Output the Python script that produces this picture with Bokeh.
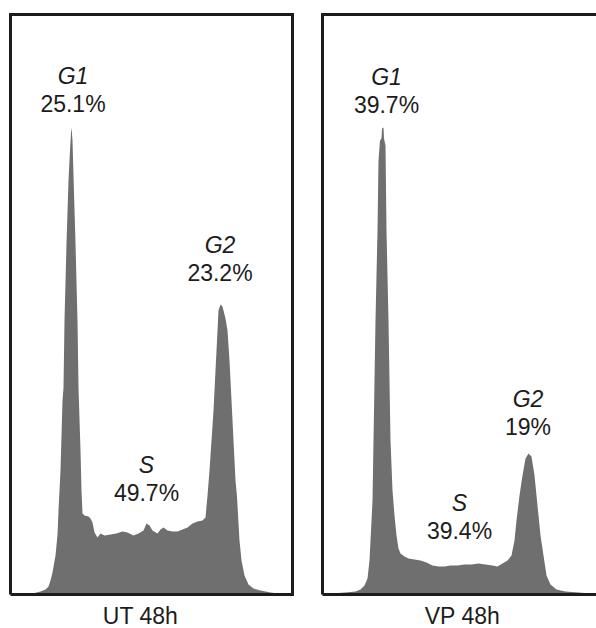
from bokeh.plotting import figure
from bokeh.layouts import row
from bokeh.models import Range1d
from bokeh.core.properties import value
from bokeh.embed import file_html
from bokeh.resources import INLINE

# ---------------- data (DNA content channel, cell counts) ----------------
ut_channel = [0, 10, 22, 30, 35, 38, 40, 42, 45, 47, 48, 50, 52, 53, 54, 56, 58, 59.5,
              60.5, 61, 62, 63, 65, 67, 68, 70, 71, 72, 74, 78, 80, 82, 84, 87, 90, 94,
              100, 106, 112, 117, 123, 128, 133, 136, 139, 142, 147, 150, 153, 157, 162,
              167, 172, 177, 182, 187, 192, 195, 197, 199, 201, 203, 205, 207, 208, 210,
              212, 215, 217, 219, 221, 223, 225, 226.5, 229, 231, 234, 238, 243, 250, 260,
              268, 282]
ut_counts = [0, 0.5, 0.5, 1.5, 2.5, 4, 7, 11, 19.5, 30, 42, 62, 97, 103.5, 137, 175.5,
             207, 222, 231, 233.5, 227, 209.5, 175.5, 137, 103.5, 72, 52, 40.5, 39.5, 39,
             38, 36, 31, 28.5, 30.5, 29.5, 30, 30.5, 31.5, 31, 29.5, 30.5, 32, 35.5, 34.5,
             32, 30.5, 32.5, 33.5, 32, 31.5, 31.5, 32.5, 33.5, 35.5, 36.5, 37, 38.5, 49.5,
             62, 77, 92, 112, 132, 142, 145, 144, 138, 132, 117, 97, 77, 57, 49, 27, 17,
             9.5, 5, 3, 2, 1, 0.5, 0]

vp_channel = [0, 8, 23, 33, 38, 42, 45, 47, 48, 50, 51, 52, 53, 55, 56, 57.5, 59, 59.5,
              61, 61.5, 63, 64, 66, 67, 68, 70, 72, 74, 76, 78, 82, 86, 92, 98, 104, 110,
              116, 122, 128, 135, 142, 149, 156, 163, 170, 175, 180, 185, 189, 192, 194,
              197, 200, 203, 206, 209, 212, 215, 218, 221, 224, 228, 234, 243, 256, 268, 274]
vp_counts = [0, 0.5, 1, 1.5, 2.5, 4.5, 8, 17, 27, 47, 77, 107, 137, 182, 217, 227, 228,
             233, 233.5, 228, 224.5, 182, 137, 107, 77, 52, 39.5, 29.5, 23, 20.5, 19, 18,
             17.5, 17, 16, 14.5, 14, 14, 14.5, 14.5, 15, 15, 15.5, 15, 14.5, 14, 15.5, 17,
             19.5, 27, 37, 49.5, 59.5, 68, 70.5, 69, 59.5, 44.5, 29.5, 19.5, 9.5, 5, 2.5,
             1.5, 1, 0.5, 0]

# phase annotations
ut_phases = ["G1", "G2", "S"]
ut_pcts = ["25.1%", "23.2%", "49.7%"]
ut_lab_x = [62.5, 209.5, 136]
ut_lab_y = [259.5, 175, 65]

vp_phases = ["G1", "G2", "S"]
vp_pcts = ["39.7%", "19%", "39.4%"]
vp_lab_x = [64, 205.5, 137]
vp_lab_y = [259, 98, 46]

titles = ["UT 48h", "VP 48h"]
title_x = [130, 140]
title_y = -10.5

# histogram panel extent (channel 0..282, counts 0..290)
PANEL_X = [0, 282]
PANEL_Y = [0, 290]

FILL = "#6f6f6f"
INK = "#1c1c1c"
FONT = "Liberation Sans"
FS = "23px"
LINE_GAP = 14  # count units between phase name and percentage


def make_panel(channel, counts, phases, pcts, lx, ly, title, tx, width, x_start):
    p = figure(width=width, height=628, output_backend="svg", toolbar_location=None,
               x_axis_type=None, y_axis_type=None,
               x_range=Range1d(x_start, x_start + width * 1.0),
               y_range=Range1d(-17, 297),
               min_border=0, min_border_left=0, min_border_right=0,
               min_border_top=0, min_border_bottom=0,
               background_fill_color="white", border_fill_color="white",
               outline_line_color=None)
    p.varea(x=channel, y1=[0] * len(channel), y2=counts, fill_color=FILL, fill_alpha=1.0)
    bx = [PANEL_X[0], PANEL_X[1], PANEL_X[1], PANEL_X[0], PANEL_X[0]]
    by = [PANEL_Y[0], PANEL_Y[0], PANEL_Y[1], PANEL_Y[1], PANEL_Y[0]]
    p.line(bx, by, line_color=INK, line_width=3, line_join="miter")
    p.text(x=lx, y=ly, text=phases, text_font=value(FONT), text_font_size=FS,
           text_font_style="italic", text_color=INK,
           text_align="center", text_baseline="middle")
    p.text(x=lx, y=[v - LINE_GAP for v in ly], text=pcts, text_font=value(FONT),
           text_font_size=FS, text_color=INK,
           text_align="center", text_baseline="middle")
    p.text(x=[tx], y=[title_y], text=[title], text_font=value(FONT), text_font_size=FS,
           text_color=INK, text_align="center", text_baseline="middle")
    return p


left = make_panel(ut_channel, ut_counts, ut_phases, ut_pcts, ut_lab_x, ut_lab_y,
                  titles[0], title_x[0], 307, -10)
right = make_panel(vp_channel, vp_counts, vp_phases, vp_pcts, vp_lab_x, vp_lab_y,
                   titles[1], title_x[1], 289, -15)

layout = row(left, right)
open("out.html", "w").write(file_html(layout, INLINE))
